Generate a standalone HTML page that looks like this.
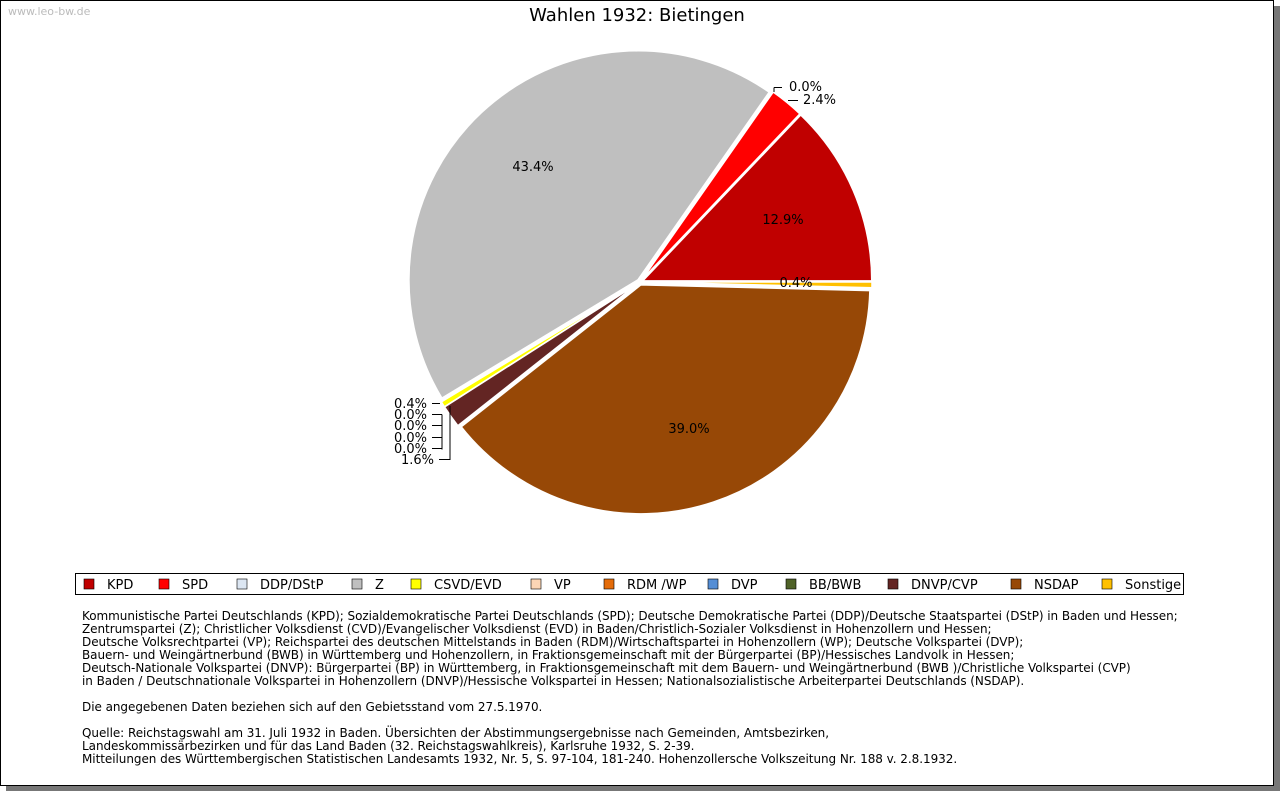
<!DOCTYPE html>
<html><head><meta charset="utf-8"><style>
body{margin:0;background:#fff;font-family:"DejaVu Sans","Liberation Sans",sans-serif;}
#frame{position:absolute;left:0;top:0;width:1272px;height:784px;border:1px solid #000;background:#fff;box-shadow:6px 6px 0 #777;}
.note{position:absolute;left:82px;top:610px;font-size:12px;line-height:13px;color:#000;white-space:pre;letter-spacing:-0.05px;}
</style></head><body>
<div id="frame"></div>
<svg width="1280" height="791" style="position:absolute;left:0;top:0">
<text x="8" y="15" font-size="11" fill="#bbb" font-family="DejaVu Sans,sans-serif">www.leo-bw.de</text>
<text x="637" y="21" font-size="18" text-anchor="middle" font-family="DejaVu Sans,sans-serif">Wahlen 1932: Bietingen</text>
<g id="slices"></g>
<g id="labels" font-size="13" font-family="DejaVu Sans,sans-serif"></g>
<rect x="75.5" y="573.5" width="1108" height="21" fill="#fff" stroke="#000"/>
<g id="legend" font-size="13" font-family="DejaVu Sans,sans-serif"></g>
</svg>
<div class="note">Kommunistische Partei Deutschlands (KPD); Sozialdemokratische Partei Deutschlands (SPD); Deutsche Demokratische Partei (DDP)/Deutsche Staatspartei (DStP) in Baden und Hessen;
Zentrumspartei (Z); Christlicher Volksdienst (CVD)/Evangelischer Volksdienst (EVD) in Baden/Christlich-Sozialer Volksdienst in Hohenzollern und Hessen;
Deutsche Volksrechtpartei (VP); Reichspartei des deutschen Mittelstands in Baden (RDM)/Wirtschaftspartei in Hohenzollern (WP); Deutsche Volkspartei (DVP);
Bauern- und Weingärtnerbund (BWB) in Württemberg und Hohenzollern, in Fraktionsgemeinschaft mit der Bürgerpartei (BP)/Hessisches Landvolk in Hessen;
Deutsch-Nationale Volkspartei (DNVP): Bürgerpartei (BP) in Württemberg, in Fraktionsgemeinschaft mit dem Bauern- und Weingärtnerbund (BWB )/Christliche Volkspartei (CVP)
in Baden / Deutschnationale Volkspartei in Hohenzollern (DNVP)/Hessische Volkspartei in Hessen; Nationalsozialistische Arbeiterpartei Deutschlands (NSDAP).

Die angegebenen Daten beziehen sich auf den Gebietsstand vom 27.5.1970.

Quelle: Reichstagswahl am 31. Juli 1932 in Baden. Übersichten der Abstimmungsergebnisse nach Gemeinden, Amtsbezirken,
Landeskommissärbezirken und für das Land Baden (32. Reichstagswahlkreis), Karlsruhe 1932, S. 2-39.
Mitteilungen des Württembergischen Statistischen Landesamts 1932, Nr. 5, S. 97-104, 181-240. Hohenzollersche Volkszeitung Nr. 188 v. 2.8.1932.</div>
<script>
const parties=["KPD","SPD","DDP/DStP","Z","CSVD/EVD","VP","RDM /WP","DVP","BB/BWB","DNVP/CVP","NSDAP","Sonstige"];
const values=[12.9,2.4,0.0,43.4,0.4,0.0,0.0,0.0,0.0,1.6,39.0,0.4];
const colors=["#c00000","#ff0000","#dce6f2","#bfbfbf","#ffff00","#fbd5b5","#e46c0a","#558ed5","#4f6228","#632523","#974806","#ffc000"];
const legendX=[84,159,237,352,411,531,604,708,786,888,1011,1102];
const NS="http://www.w3.org/2000/svg";
const cx=640,cy=282,R=229,gap=3;
const total=values.reduce((a,b)=>a+b,0);
function pt(a,r){return [cx+r*Math.cos(a),cy-r*Math.sin(a)];}
let ang=0;
const sg=document.getElementById('slices'),lg=document.getElementById('labels');
values.forEach((v,i)=>{
  const sweep=v/total*2*Math.PI;const mid=ang+sweep/2;
  const ox=gap*Math.cos(mid),oy=-gap*Math.sin(mid);
  if(v>0){
    const p1=pt(ang,R),p2=pt(ang+sweep,R);
    const p=document.createElementNS(NS,'path');
    p.setAttribute('d',`M${cx+ox},${cy+oy}L${p1[0]+ox},${p1[1]+oy}A${R},${R} 0 ${sweep>Math.PI?1:0} 0 ${p2[0]+ox},${p2[1]+oy}Z`);
    p.setAttribute('fill',colors[i]);p.setAttribute('stroke','#fff');p.setAttribute('stroke-width','1.5');
    
    
    sg.appendChild(p);
  }
  ang+=sweep;
});
function txt(x,y,s,anchor){const t=document.createElementNS(NS,'text');t.setAttribute('x',x);t.setAttribute('y',y);t.setAttribute('text-anchor',anchor||'middle');t.textContent=s;


lg.appendChild(t);}
function line(d){const p=document.createElementNS(NS,'path');p.setAttribute('d',d);p.setAttribute('stroke','#000');p.setAttribute('fill','none');


lg.appendChild(p);}
const f=v=>v.toFixed(1)+'%';
txt(533,171,f(values[3]));txt(783,224,f(values[0]));txt(689,433,f(values[10]));txt(796,287,f(values[11]));
txt(789,91,f(values[2]),'start');line('M774,87.5H782M774,87.5V92');
txt(803,104,f(values[1]),'start');line('M788,100.5H798');
const ys=[408,419,430,442,453];const ov=[values[4],values[5],values[6],values[7],values[8]];
ov.forEach((v,k)=>{txt(427,ys[k],f(v),'end');line(`M432,${ys[k]-4.5}H${k==0?440:442}`);});
line('M442,414.5V449.5');
txt(434,464,f(values[9]),'end');line('M439,459.5H450V406');
const lgd=document.getElementById('legend');
parties.forEach((n,i)=>{
  const r=document.createElementNS(NS,'rect');r.setAttribute('x',legendX[i]);r.setAttribute('y',579);r.setAttribute('width',10);r.setAttribute('height',10);r.setAttribute('fill',colors[i]);r.setAttribute('stroke','#000');r.setAttribute('stroke-width','0.6');
  
  
  lgd.appendChild(r);
  const t=document.createElementNS(NS,'text');t.setAttribute('x',legendX[i]+23);t.setAttribute('y',589);t.textContent=n;
  
  
  lgd.appendChild(t);
});
</script>
</body></html>
